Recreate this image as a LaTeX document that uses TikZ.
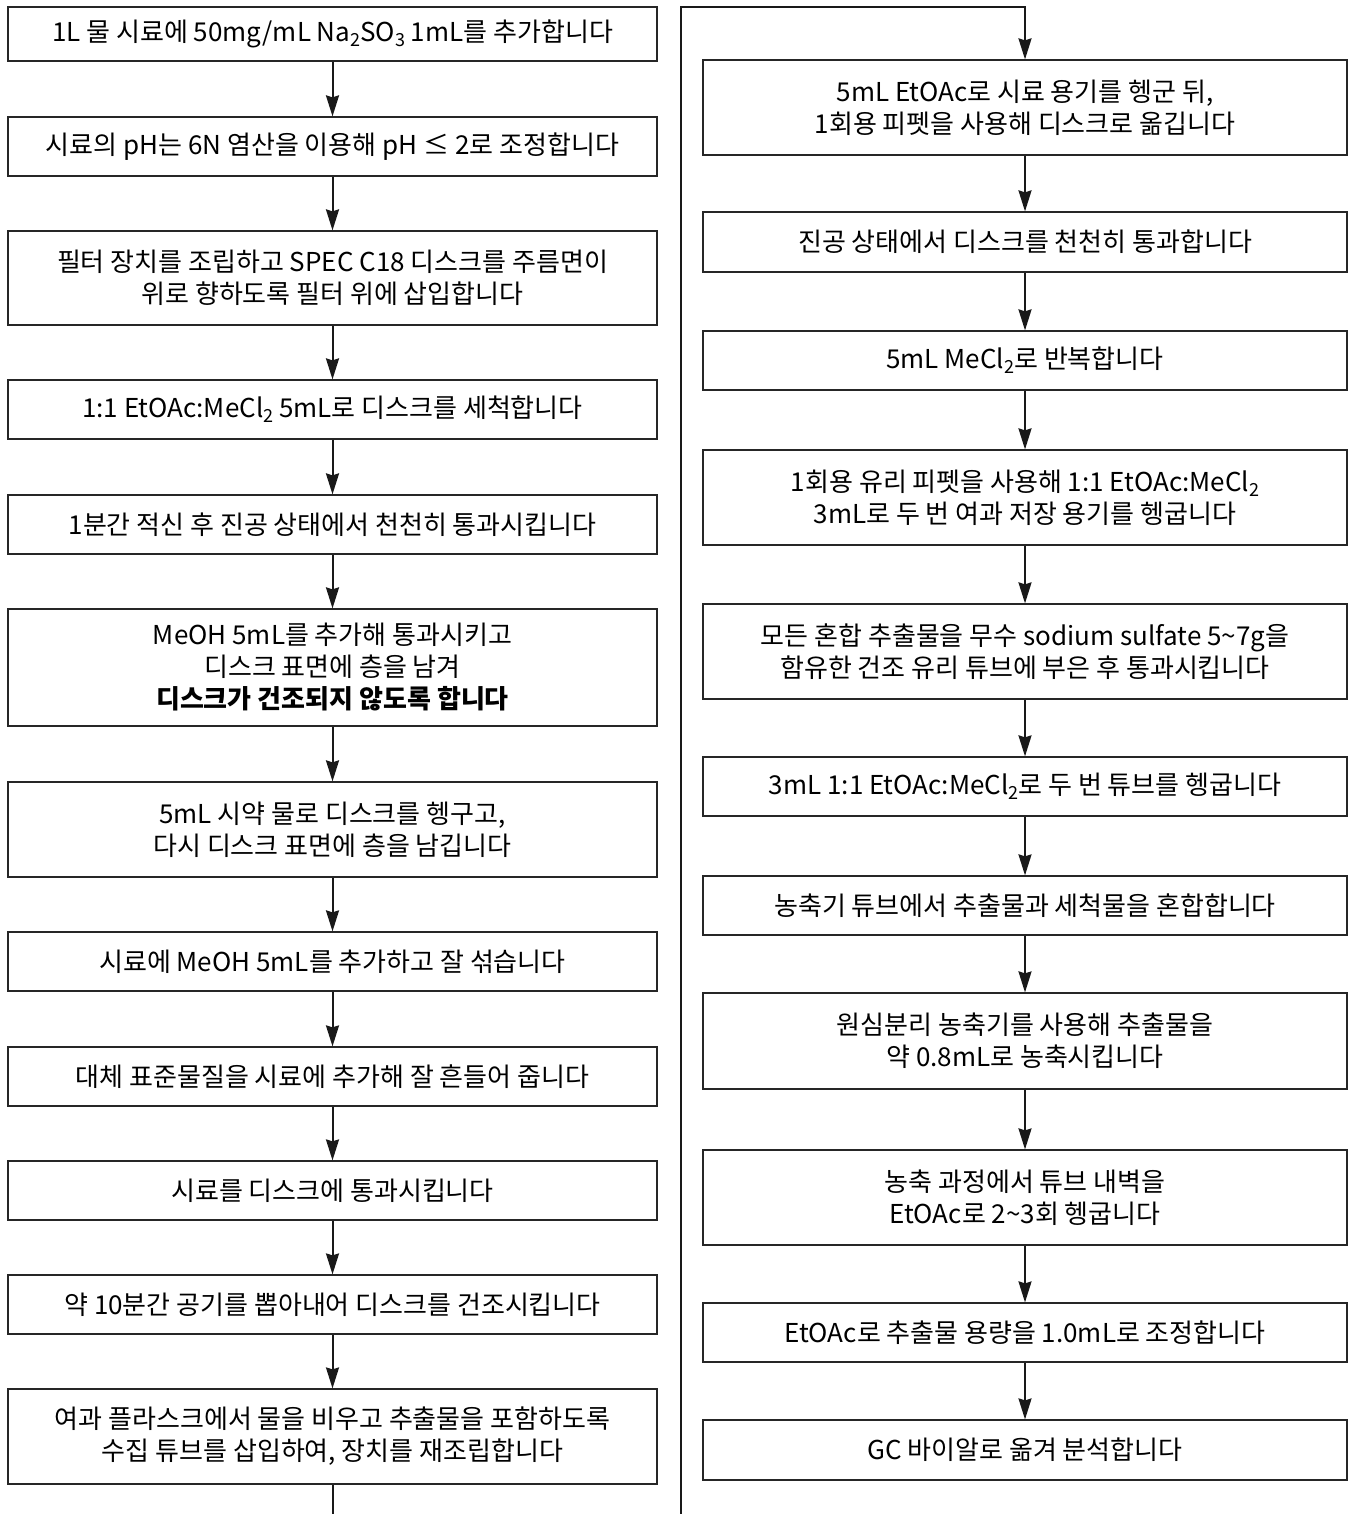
\documentclass[tikz,border=0pt]{standalone}
\usepackage{fontspec}
\setmainfont{Noto Sans CJK KR}
\usetikzlibrary{arrows.meta}
\newcommand{\chs}[1]{\raisebox{-0.35ex}{\fontsize{18}{18}\selectfont #1}}
\begin{document}
\begin{tikzpicture}[x=1pt,y=-1pt,
  box/.style={draw=black!85,line width=1.2pt,align=center,inner sep=0pt,
    font=\fontsize{26}{32}\selectfont},
  lbox/.style={box,minimum width=649pt},
  rbox/.style={box,minimum width=644pt},
  link/.style={line width=2pt,draw=black!90,-{Stealth[length=21pt,width=13pt,inset=2pt]}},
  plain/.style={line width=2pt,draw=black!90}]
\useasboundingbox[fill=white] (0,0) rectangle (1354,1514);
% left column
\node[lbox,minimum height=54pt] (L1) at (332.5,34) {1L 물 시료에 50mg/mL Na\chs{2}SO\chs{3} 1mL를 추가합니다};
\node[lbox,minimum height=59pt] (L2) at (332.5,146.5) {시료의 pH는 6N 염산을 이용해 pH ≤ 2로 조정합니다};
\node[lbox,minimum height=94pt] (L3) at (332.5,278) {필터 장치를 조립하고 SPEC C18 디스크를 주름면이\\위로 향하도록 필터 위에 삽입합니다};
\node[lbox,minimum height=59pt] (L4) at (332.5,409.5) {1:1 EtOAc:MeCl\chs{2} 5mL로 디스크를 세척합니다};
\node[lbox,minimum height=59pt] (L5) at (332.5,524.5) {1분간 적신 후 진공 상태에서 천천히 통과시킵니다};
\node[lbox,minimum height=117pt] (L6) at (332.5,667.5) {MeOH 5mL를 추가해 통과시키고\\디스크 표면에 층을 남겨\\\textbf{디스크가 건조되지 않도록 합니다}};
\node[lbox,minimum height=95pt] (L7) at (332.5,829.5) {5mL 시약 물로 디스크를 헹구고,\\다시 디스크 표면에 층을 남깁니다};
\node[lbox,minimum height=59pt] (L8) at (332.5,961.5) {시료에 MeOH 5mL를 추가하고 잘 섞습니다};
\node[lbox,minimum height=59pt] (L9) at (332.5,1076.5) {대체 표준물질을 시료에 추가해 잘 흔들어 줍니다};
\node[lbox,minimum height=59pt] (L10) at (332.5,1190.5) {시료를 디스크에 통과시킵니다};
\node[lbox,minimum height=59pt] (L11) at (332.5,1304.5) {약 10분간 공기를 뽑아내어 디스크를 건조시킵니다};
\node[lbox,minimum height=95pt] (L12) at (332.5,1436.5) {여과 플라스크에서 물을 비우고 추출물을 포함하도록\\수집 튜브를 삽입하여, 장치를 재조립합니다};
% right column
\node[rbox,minimum height=95pt] (R1) at (1025,107.5) {5mL EtOAc로 시료 용기를 헹군 뒤,\\1회용 피펫을 사용해 디스크로 옮깁니다};
\node[rbox,minimum height=60pt] (R2) at (1025,242) {진공 상태에서 디스크를 천천히 통과합니다};
\node[rbox,minimum height=59pt] (R3) at (1025,360.5) {5mL MeCl\chs{2}로 반복합니다};
\node[rbox,minimum height=95pt] (R4) at (1025,497.5) {1회용 유리 피펫을 사용해 1:1 EtOAc:MeCl\chs{2}\\3mL로 두 번 여과 저장 용기를 헹굽니다};
\node[rbox,minimum height=95pt] (R5) at (1025,651.5) {모든 혼합 추출물을 무수 sodium sulfate 5\textasciitilde 7g을\\함유한 건조 유리 튜브에 부은 후 통과시킵니다};
\node[rbox,minimum height=59pt] (R6) at (1025,786.5) {3mL 1:1 EtOAc:MeCl\chs{2}로 두 번 튜브를 헹굽니다};
\node[rbox,minimum height=59pt] (R7) at (1025,905.5) {농축기 튜브에서 추출물과 세척물을 혼합합니다};
\node[rbox,minimum height=96pt] (R8) at (1025,1041) {원심분리 농축기를 사용해 추출물을\\약 0.8mL로 농축시킵니다};
\node[rbox,minimum height=95pt] (R9) at (1025,1197.5) {농축 과정에서 튜브 내벽을\\EtOAc로 2\textasciitilde 3회 헹굽니다};
\node[rbox,minimum height=59pt] (R10) at (1025,1332.5) {EtOAc로 추출물 용량을 1.0mL로 조정합니다};
\node[rbox,minimum height=60pt] (R11) at (1025,1450) {GC 바이알로 옮겨 분석합니다};
% connectors left
\foreach \a/\b in {L1/L2,L2/L3,L3/L4,L4/L5,L5/L6,L6/L7,L7/L8,L8/L9,L9/L10,L10/L11,L11/L12}
  \draw[link] (\a) -- (\b);
\coordinate (lend) at (332.5,1514);
\draw[plain] (L12) -- (lend);
% connectors right
\foreach \a/\b in {R1/R2,R2/R3,R3/R4,R4/R5,R5/R6,R6/R7,R7/R8,R8/R9,R9/R10,R10/R11}
  \draw[link] (\a) -- (\b);
\coordinate (rstart) at (681,1514);
\coordinate (rtop) at (681,7);
\draw[link] (rstart) -- (rtop) -- (R1.north |- rtop) -- (R1.north);
\end{tikzpicture}
\end{document}
